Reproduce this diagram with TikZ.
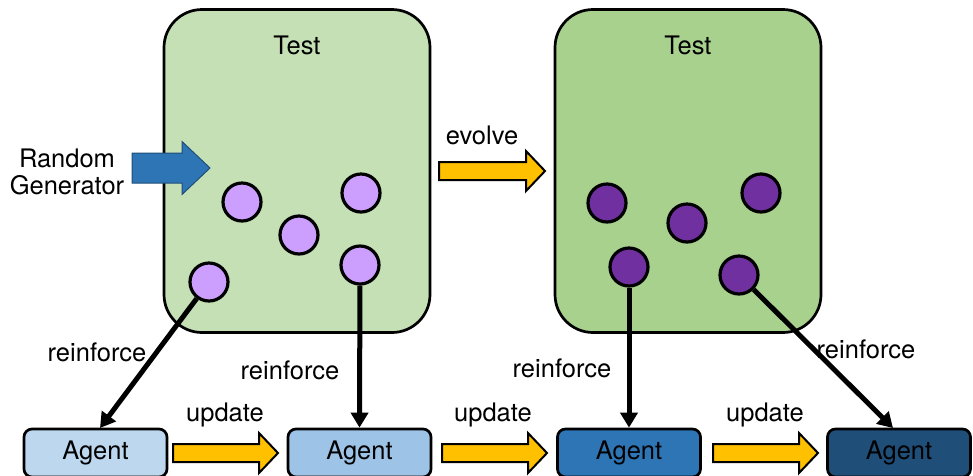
\documentclass[tikz,border=0pt]{standalone}
\usepackage{fontspec}
\setmainfont{TeX Gyre Heros}
\usetikzlibrary{arrows.meta,calc}
\definecolor{testA}{HTML}{C5E0B4}
\definecolor{testB}{HTML}{A9D18E}
\definecolor{lpurple}{HTML}{CC9FFF}
\definecolor{dpurple}{HTML}{7030A0}
\definecolor{agA}{HTML}{BDD7EE}
\definecolor{agB}{HTML}{9DC3E6}
\definecolor{agC}{HTML}{2E75B6}
\definecolor{agD}{HTML}{1F4E79}
\definecolor{yarrow}{HTML}{FFC000}
\definecolor{barrow}{HTML}{2E75B6}
% block arrow: style, left x, center y, total length, half body, half head, head length
\newcommand{\myblockarrow}[7]{%
  \draw[#1] (#2,#3-#5) -- ++(#4-#7,0) -- (#2+#4-#7,#3-#6) -- (#2+#4,#3)
    -- (#2+#4-#7,#3+#6) -- (#2+#4-#7,#3+#5) -- (#2,#3+#5) -- cycle;}
\begin{document}
\begin{tikzpicture}[x=1pt,y=-1pt,
  every node/.style={font=\fontsize{25.5}{30}\selectfont},
  testbox/.style={draw=black,line width=2.7pt,rounded corners=38pt,minimum width=266pt,minimum height=323pt,inner sep=0pt},
  agentbox/.style={draw=black,line width=2.7pt,rounded corners=8pt,minimum width=143pt,minimum height=48pt,inner sep=0pt},
  ball/.style={circle,draw=black,line width=3.2pt,minimum size=38pt,inner sep=0pt},
  lball/.style={ball,fill=lpurple},
  dball/.style={ball,fill=dpurple},
  yblock/.style={draw=black,line width=2pt,fill=yarrow,line join=miter},
  bblock/.style={draw=agD,line width=1pt,fill=barrow,line join=miter},
  reinf/.style={line width=5pt,-{Triangle[length=15pt,width=17pt]}},
  lbl/.style={inner sep=0pt}
]
\useasboundingbox (0,0) rectangle (973,475);

% test boxes
\node[testbox,fill=testA] (t1) at (297,171) {};
\node[testbox,fill=testB] (t2) at (688,171) {};
\node[lbl] (t1l) at (297,45) {Test};
\node[lbl] (t2l) at (688,45) {Test};

% random generator
\node[lbl,align=center] (rg) at (67,172) {Random\\[-3pt]Generator};
\myblockarrow{bblock}{132}{168}{78}{15}{26.5}{28}

% light balls
\node[lball] (c1) at (242,202) {};
\node[lball] (c2) at (299,235) {};
\node[lball] (c3) at (361,193) {};
\node[lball] (c4) at (360,265) {};
\node[lball] (c5) at (209,282) {};

% dark balls
\node[dball] (d1) at (607,203) {};
\node[dball] (d2) at (687,223) {};
\node[dball] (d3) at (761,193) {};
\node[dball] (d4) at (629,267) {};
\node[dball] (d5) at (739,275) {};

% evolve
\myblockarrow{yblock}{439}{171}{106}{9}{20}{19}
\node[lbl] (evl) at (482,135) {evolve};

% agents
\node[agentbox,fill=agA] (a1) at (95.5,453) {Agent};
\node[agentbox,fill=agB] (a2) at (359.5,453) {Agent};
\node[agentbox,fill=agC] (a3) at (629,453) {Agent};
\node[agentbox,fill=agD] (a4) at (899,453) {Agent};

% update arrows
\myblockarrow{yblock}{173}{453}{105}{9}{20}{19}
\myblockarrow{yblock}{442}{453}{105}{9}{20}{19}
\myblockarrow{yblock}{713}{453}{105}{9}{20}{19}
\node[lbl] (u1l) at (225,415) {update};
\node[lbl] (u2l) at (493,415) {update};
\node[lbl] (u3l) at (765,415) {update};

% reinforce
\coordinate (e1) at (100,428);
\coordinate (e4) at (893,428);
\draw[reinf] (c5) -- (e1);
\draw[reinf] (c4) -- (a2.north);
\draw[reinf] (d4) -- (a3.north);
\draw[reinf] (d5) -- (e4);
\node[lbl] (r1) at (97,352) {reinforce};
\node[lbl] (r2) at (290,370) {reinforce};
\node[lbl] (r3) at (562,368) {reinforce};
\node[lbl] (r4) at (866,349) {reinforce};
\end{tikzpicture}
\end{document}
